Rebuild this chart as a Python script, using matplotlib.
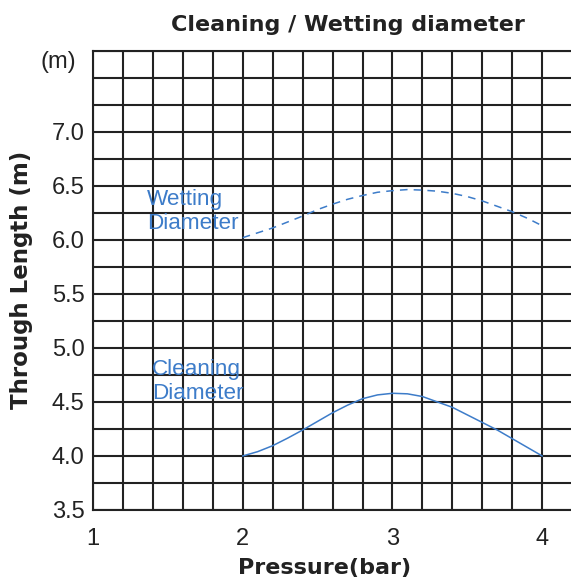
import numpy as np
import matplotlib
matplotlib.use("Agg")
import matplotlib.pyplot as plt
from matplotlib.ticker import MultipleLocator, FixedLocator

# Pressure (bar) and throw lengths (m)
pressure = [2.0, 2.1, 2.2, 2.3, 2.4, 2.5, 2.6, 2.7, 2.8, 2.9, 3.0,
            3.1, 3.2, 3.3, 3.4, 3.5, 3.6, 3.7, 3.8, 3.9, 4.0]
wetting = [6.02, 6.065, 6.11, 6.165, 6.22, 6.28, 6.33, 6.375, 6.41, 6.44, 6.455,
           6.465, 6.46, 6.45, 6.43, 6.40, 6.36, 6.31, 6.26, 6.20, 6.13]
cleaning = [4.00, 4.04, 4.095, 4.165, 4.24, 4.32, 4.40, 4.47, 4.53, 4.565, 4.58,
            4.575, 4.55, 4.50, 4.45, 4.38, 4.31, 4.24, 4.16, 4.08, 4.00]

x_ticks = [1, 2, 3, 4]
y_ticks = [3.5, 4.0, 4.5, 5.0, 5.5, 6.0, 6.5, 7.0]
y_tick_labels = ["3.5", "4.0", "4.5", "5.0", "5.5", "6.0", "6.5", "7.0"]

blue = "#3d7cc9"
ink = "#222222"

fig = plt.figure(figsize=(5.71, 5.83), dpi=100)
ax = fig.add_axes([93 / 571, 1 - 510 / 583, 1 - 93 / 571 + 0.002, (510 - 50.7) / 583])

ax.set_xlim(1, 4.2)
ax.set_ylim(3.5, 7.75)

# dense square grid
ax.xaxis.set_minor_locator(MultipleLocator(0.2))
ax.yaxis.set_minor_locator(MultipleLocator(0.25))
ax.grid(which="both", color=ink, linewidth=1.5)
ax.set_axisbelow(True)
for s in ax.spines.values():
    s.set_color(ink)
    s.set_linewidth(1.5)

ax.xaxis.set_major_locator(FixedLocator(x_ticks))
ax.yaxis.set_major_locator(FixedLocator(y_ticks))
ax.set_yticklabels(y_tick_labels)
ax.tick_params(which="both", length=0)
ax.tick_params(axis="both", labelsize=17, colors=ink, labelfontfamily="Liberation Sans")
ax.tick_params(axis="x", pad=13)
ax.tick_params(axis="y", pad=6)

ax.plot(pressure, wetting, color=blue, linewidth=1.1, linestyle=(0, (5, 4)))
ax.plot(pressure, cleaning, color=blue, linewidth=1.1)

ax.text(1.36, 6.47, "Wetting\nDiameter", color=blue, fontsize=16.2,
        family="Liberation Sans", va="top", ha="left", linespacing=1.2)
ax.text(1.395, 4.90, "Cleaning\nDiameter", color=blue, fontsize=16.2,
        family="Liberation Sans", va="top", ha="left", linespacing=1.2)

fig.text(58 / 571, 1 - 62 / 583, "(m)", fontsize=17, color=ink,
         family="Liberation Sans", ha="center", va="center")

fig.text(348 / 571, 1 - 25 / 583, "Cleaning / Wetting diameter", fontsize=16,
         fontweight="bold", color=ink, ha="center", va="center")
fig.text(325 / 571, 1 - 568 / 583, "Pressure(bar)", fontsize=16,
         fontweight="bold", color=ink, ha="center", va="center")
fig.text(22 / 571, 1 - 280 / 583, "Through Length (m)", fontsize=16.5,
         fontweight="bold", color=ink, ha="center", va="center", rotation=90)

fig.savefig("out.png", dpi=100)
